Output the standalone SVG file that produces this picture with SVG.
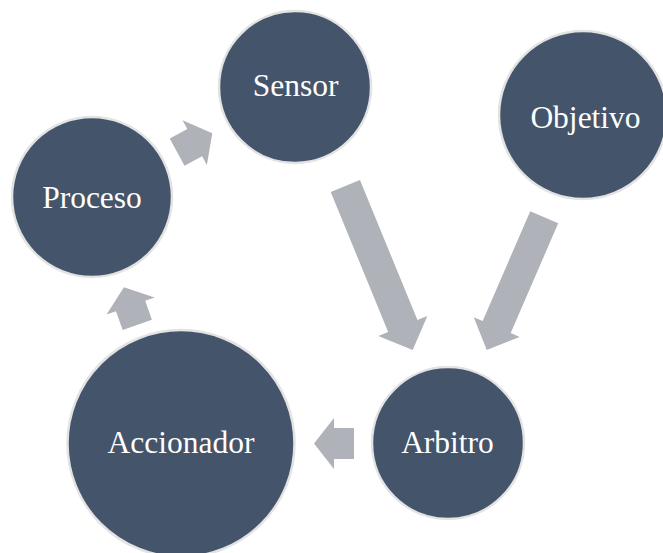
<svg xmlns="http://www.w3.org/2000/svg" width="663" height="553" viewBox="0 0 663 553">
<style>
.node{fill:#44546A;stroke:#E3E3E3;stroke-width:2.5}
.lbl{font-family:"Liberation Serif","Times New Roman",serif;font-size:31.5px;fill:#FFFFFF;text-anchor:middle}
.arr{fill:#AFB2B8}
</style>
<defs>
<path id="small" d="M-20,-15.5 L0,-15.5 L0,-25.5 L20,0 L0,25.5 L0,15.5 L-20,15.5 Z"/>
</defs>
<rect width="663" height="553" fill="#FFFFFF"/>
<g id="connectors" class="arr">
<use href="#small" transform="translate(194.7,142.7) rotate(-28.5)"/>
<path d="M-88.75,-15.8 L62.75,-15.8 L62.75,-26.5 L88.75,0 L62.75,26.5 L62.75,15.8 L-88.75,15.8 Z" transform="translate(379,268) rotate(67.7)"/>
<path d="M-72.35,-15.25 L47.35,-15.25 L47.35,-25 L72.35,0 L47.35,25 L47.35,15.25 L-72.35,15.25 Z" transform="translate(515.5,283.6) rotate(113.4)"/>
<use href="#small" transform="translate(334,443.5) rotate(180)"/>
<use href="#small" transform="translate(130.6,306) rotate(-109.5)"/>
</g>
<g id="sensor"><circle class="node" cx="295" cy="87" r="76"/><text class="lbl" x="295.5" y="96">Sensor</text></g>
<g id="objetivo"><circle class="node" cx="583" cy="115" r="84"/><text class="lbl" x="585.5" y="127.5">Objetivo</text></g>
<g id="proceso"><circle class="node" cx="92" cy="197" r="80"/><text class="lbl" x="92" y="208">Proceso</text></g>
<g id="arbitro"><circle class="node" cx="448" cy="443" r="76"/><text class="lbl" x="447.5" y="452.5">Arbitro</text></g>
<g id="accionador"><circle class="node" cx="181" cy="443.5" r="113.5"/><text class="lbl" x="181" y="452.5">Accionador</text></g>
</svg>
